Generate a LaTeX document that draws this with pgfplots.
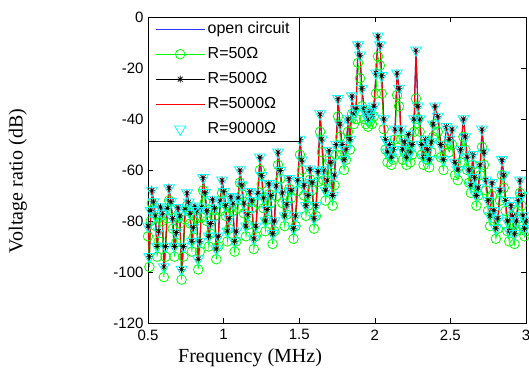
\documentclass[border=0pt]{standalone}
\usepackage{pgfplots}
\pgfplotsset{compat=1.18}
\usepackage{pgfplotstable}
\usepackage{fontspec}
\setmainfont{Liberation Serif}
\newfontfamily\arial{Liberation Sans}
\definecolor{mblue}{rgb}{0.2,0.2,1}
\definecolor{mgreen}{rgb}{0,1,0}
\definecolor{mred}{rgb}{1,0,0}
\definecolor{mcyan}{rgb}{0,1,1}

\pgfdeclareplotmark{mstar}{%
 \pgfpathmoveto{\pgfqpoint{-\pgfplotmarksize}{0pt}}\pgfpathlineto{\pgfqpoint{\pgfplotmarksize}{0pt}}%
 \pgfpathmoveto{\pgfqpoint{0pt}{-\pgfplotmarksize}}\pgfpathlineto{\pgfqpoint{0pt}{\pgfplotmarksize}}%
 \pgfpathmoveto{\pgfqpoint{-0.707\pgfplotmarksize}{-0.707\pgfplotmarksize}}\pgfpathlineto{\pgfqpoint{0.707\pgfplotmarksize}{0.707\pgfplotmarksize}}%
 \pgfpathmoveto{\pgfqpoint{-0.707\pgfplotmarksize}{0.707\pgfplotmarksize}}\pgfpathlineto{\pgfqpoint{0.707\pgfplotmarksize}{-0.707\pgfplotmarksize}}%
 \pgfusepathqstroke}

% x: frequency (MHz); b: open circuit / 500 / 5000 / 9000 Ohm (overlapping); g: 50 Ohm
\pgfplotstableread{
x b g
0.500 -82 -86
0.509 -94 -98
0.518 -76 -80
0.526 -68 -73
0.537 -72.5 -75.5
0.549 -78 -82
0.560 -90 -94
0.571 -84 -88
0.583 -74.5 -78.5
0.594 -77 -80
0.605 -98 -102
0.616 -90 -94
0.628 -75 -79
0.639 -67 -72
0.651 -72.4 -75.5
0.663 -79 -83
0.675 -90 -94
0.687 -84.5 -88.5
0.699 -74.8 -78.8
0.710 -78 -81
0.722 -99 -103
0.734 -90 -94
0.746 -75.4 -79.4
0.758 -69 -74
0.769 -72.6 -75.6
0.779 -77 -81
0.790 -88 -92
0.800 -82.5 -86.5
0.811 -74.2 -78.2
0.822 -76 -79
0.832 -95 -99
0.843 -88 -92
0.853 -74.6 -78.6
0.864 -63 -68
0.877 -68.9 -72.5
0.889 -76 -80
0.902 -86 -90
0.914 -81 -85
0.927 -71.5 -75.5
0.940 -75 -78
0.952 -91 -95
0.965 -86 -90
0.977 -72.1 -76.1
0.990 -64 -69
1.002 -68.5 -72
1.014 -74 -78
1.025 -84 -88
1.037 -79 -83
1.049 -70.5 -74.5
1.061 -73 -76
1.073 -88 -92
1.084 -84 -88
1.096 -71 -75
1.108 -60 -65
1.121 -65.9 -69.5
1.134 -73 -77
1.148 -82 -86
1.161 -77.5 -81.5
1.174 -68.5 -72.5
1.187 -72 -75
1.200 -87 -91
1.214 -82 -86
1.227 -69.1 -73
1.240 -55 -60
1.252 -62.2 -65.5
1.264 -71 -75
1.276 -80 -84
1.288 -75.5 -79.5
1.300 -65.4 -69.4
1.312 -70 -73
1.324 -85 -89
1.336 -80 -84
1.348 -66.2 -70.2
1.360 -53 -58
1.375 -60.2 -63.5
1.389 -69 -73
1.404 -78 -82
1.418 -73.5 -77.5
1.433 -63.4 -67.4
1.447 -68 -71
1.462 -83 -87
1.476 -78 -82
1.491 -64.2 -68.2
1.505 -48 -54
1.518 -56.1 -60
1.532 -66 -70
1.545 -74 -78
1.558 -70 -74
1.572 -59.7 -63.7
1.585 -65 -68
1.598 -79 -83
1.611 -74 -78
1.625 -60.6 -64.6
1.638 -38 -45
1.650 -47.9 -53
1.662 -60 -64
1.674 -68 -72
1.686 -64 -68
1.698 -52.3 -56.3
1.709 -57 -61
1.721 -70 -74
1.733 -62 -66
1.745 -50 -54
1.757 -32 -39
1.770 -42 -47
1.783 -50 -54
1.797 -56 -60
1.810 -52 -56
1.823 -40 -45
1.836 -48 -52
1.849 -31 -38
1.862 -38 -42
1.876 -36 -40
1.889 -11 -18
1.902 -15 -24
1.915 -28 -35
1.929 -36 -40
1.942 -38 -42
1.955 -40 -43
1.968 -37 -41
1.981 -39 -42
1.994 -35 -39
2.008 -22 -30
2.021 -7.5 -15.5
2.034 -11 -19
2.046 -23 -30
2.059 -40 -44
2.071 -48 -52
2.084 -53 -57
2.097 -50 -54
2.109 -55 -58
2.122 -52 -56
2.134 -44 -48
2.147 -22 -30.6
2.160 -28 -35
2.172 -44 -48
2.185 -52 -56
2.197 -49 -53
2.210 -55 -58
2.222 -46 -50
2.235 -53 -57
2.247 -50 -54
2.260 -40 -45
2.272 -13 -32
2.285 -35 -40
2.297 -40 -45
2.310 -50 -54
2.322 -55 -58
2.335 -48 -52
2.348 -52 -56
2.360 -56 -59
2.373 -49 -53
2.385 -42 -47
2.398 -35 -42
2.417 -39 -45
2.436 -50 -55
2.454 -56 -60
2.473 -43 -50
2.492 -48 -53
2.511 -44 -50
2.530 -57 -62
2.549 -60 -64
2.567 -52 -57
2.586 -40 -47
2.598 -47 -52
2.611 -55 -60
2.623 -60 -65
2.635 -66 -69
2.648 -54 -58
2.660 -63 -67
2.672 -70 -74
2.684 -67 -70
2.697 -58 -62
2.709 -44 -51
2.722 -53 -58
2.735 -64 -68
2.749 -72 -76
2.762 -78 -82
2.775 -65 -70
2.788 -76 -80
2.801 -83 -87
2.814 -79 -83
2.828 -68 -72
2.841 -56 -62
2.853 -62 -67
2.865 -72 -76
2.877 -80 -84
2.889 -84 -88
2.901 -74 -78
2.912 -78 -82
2.924 -85 -89
2.936 -80 -84
2.948 -72 -76
2.960 -64 -69
2.970 -70 -74
2.980 -78 -82
2.990 -83 -86
3.000 -80 -84
}\data

\begin{document}
\begin{tikzpicture}
\begin{axis}[
  name=ax,
  scale only axis,
  width=378pt, height=306pt,
  xmin=0.5, xmax=3, ymin=-120, ymax=0,
  xtick={0.5,1,1.5,2,2.5,3},
  ytick={-120,-100,-80,-60,-40,-20,0},
  tick align=inside, tick pos=both,
  major tick length=5pt,
  axis line style={line width=0.8pt},
  every tick/.style={black, line width=0.6pt},
  ticklabel style={font=\arial\fontsize{15}{15}\selectfont},
  xticklabel style={yshift=-3pt},
  yticklabel style={xshift=-1pt},
  /pgf/number format/assume math mode=true,
  xlabel={Frequency (MHz)},
  ylabel={Voltage ratio (dB)},
  label style={font=\fontsize{20}{20}\selectfont},
  xlabel style={at={(axis description cs:0.27,-0.114)}, anchor=center},
  ylabel style={at={(axis description cs:-0.344,0.464)}, anchor=center},
  legend image code/.code={\draw[mark repeat=2,mark phase=2,#1] plot coordinates {(0pt,0pt) (24.5pt,0pt) (49pt,0pt)};},
  legend style={at={(0,1)}, anchor=north west, draw=black, fill=white,
    font=\arial\fontsize{16}{16}\selectfont,
    inner xsep=7pt, inner ysep=2pt, row sep=5pt,
    nodes={inner sep=2.5pt, text height=11.5pt, text depth=3.5pt}},
  legend cell align=left,
]
\addplot[draw=mblue, line width=1pt, no markers] table[x=x,y=b]{\data};
\addlegendentry{open circuit}
\addplot[draw=mgreen, line width=0.8pt, mark=o, mark size=4.8pt, mark options={solid}] table[x=x,y=g]{\data};
\addlegendentry{R=50Ω}
\addplot[draw=black, line width=0.6pt, mark=mstar, mark size=3.5pt, mark options={solid}] table[x=x,y=b]{\data};
\addlegendentry{R=500Ω}
\addplot[draw=mred, line width=1pt, no markers] table[x=x,y=b]{\data};
\addlegendentry{R=5000Ω}
\addplot[draw=mcyan, only marks, line width=0.8pt, mark=triangle, mark size=6.3pt, mark options={rotate=180}] table[x=x,y=b]{\data};
\addlegendentry{R=9000Ω}
\end{axis}
\pgfresetboundingbox
\path ([shift={(-148pt,-45pt)}]ax.south west) rectangle ([shift={(3pt,17pt)}]ax.north east);
\end{tikzpicture}
\end{document}
